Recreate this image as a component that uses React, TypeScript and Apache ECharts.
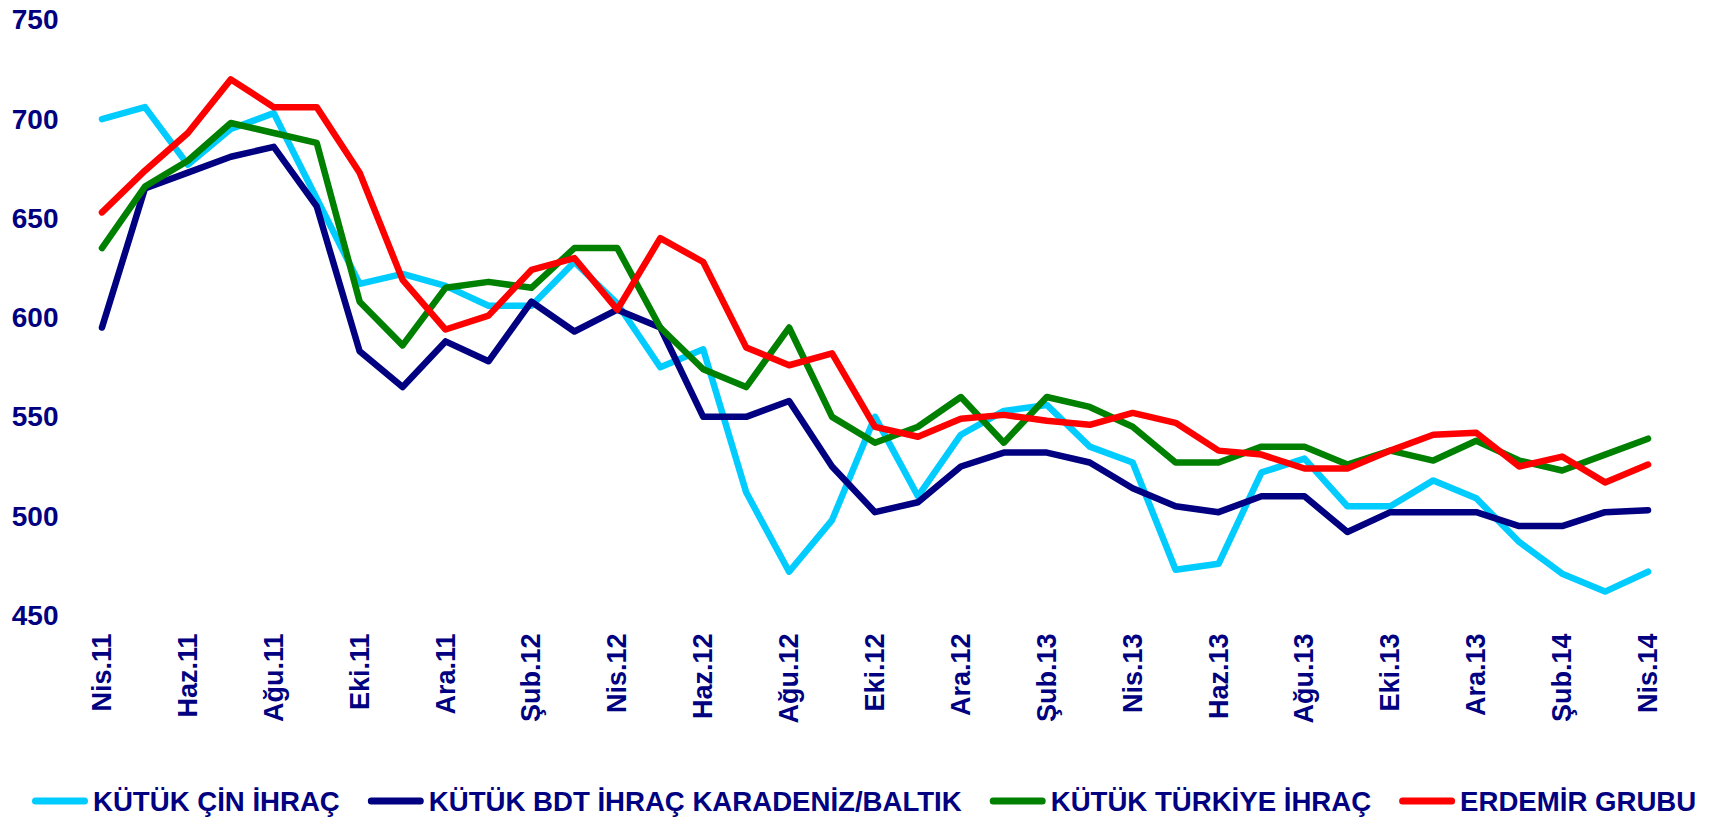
import React, { useEffect, useRef } from "react";
import * as echarts from "echarts";

const months = [
  "Nis.11", "May.11", "Haz.11", "Tem.11", "Ağu.11", "Eyl.11", "Eki.11", "Kas.11", "Ara.11",
  "Oca.12", "Şub.12", "Mar.12", "Nis.12", "May.12", "Haz.12", "Tem.12", "Ağu.12", "Eyl.12", "Eki.12", "Kas.12", "Ara.12",
  "Oca.13", "Şub.13", "Mar.13", "Nis.13", "May.13", "Haz.13", "Tem.13", "Ağu.13", "Eyl.13", "Eki.13", "Kas.13", "Ara.13",
  "Oca.14", "Şub.14", "Mar.14", "Nis.14",
];

const kutukCin = [700, 706, 677, 695, 703, 660, 617, 622, 616, 606, 606, 628, 607, 575, 584, 512, 472, 498, 550, 510, 541, 553, 556, 535, 527, 473, 476, 522, 529, 505, 505, 518, 509, 487, 471, 462, 472];
const kutukBdt = [595, 665, 673, 681, 686, 656, 583, 565, 588, 578, 608, 593, 604, 595, 550, 550, 558, 525, 502, 507, 525, 532, 532, 527, 514, 505, 502, 510, 510, 492, 502, 502, 502, 495, 495, 502, 503];
const kutukTurkiye = [635, 666, 679, 698, 693, 688, 608, 586, 615, 618, 615, 635, 635, 595, 574, 565, 595, 550, 537, 545, 560, 537, 560, 555, 545, 527, 527, 535, 535, 526, 533, 528, 538, 528, 523, 531, 539];
const erdemir = [653, 674, 693, 720, 706, 706, 673, 619, 594, 601, 624, 630, 604, 640, 628, 585, 576, 582, 545, 540, 549, 551, 548, 546, 552, 547, 533, 531, 524, 524, 533, 541, 542, 525, 530, 517, 526];

const seriesNames = ["KÜTÜK ÇİN İHRAÇ", "KÜTÜK BDT İHRAÇ KARADENİZ/BALTIK", "KÜTÜK TÜRKİYE İHRAÇ", "ERDEMİR GRUBU"];
const seriesColors = ["#00CCFF", "#000080", "#008000", "#FF0000"];
const seriesData = [kutukCin, kutukBdt, kutukTurkiye, erdemir];

const FONT = "'Liberation Sans', Arial, Helvetica, sans-serif";
const TEXT = "#000080";
const CAPSULE = "path://M3.5,0 L52.5,0 A3.5,3.5 0 0 1 52.5,7 L3.5,7 A3.5,3.5 0 0 1 3.5,0 Z";

export default function App() {
  const ref = useRef<HTMLDivElement>(null);
  useEffect(() => {
    if (!ref.current) return;
    const chart = echarts.init(ref.current, null, { renderer: "svg" });
    chart.setOption({
      animation: false,
      backgroundColor: "#ffffff",
      grid: { left: 80.5, right: 53.5, top: 19.8, bottom: 203.6, containLabel: false },
      xAxis: {
        type: "category",
        data: months,
        boundaryGap: true,
        axisLine: { show: false },
        axisTick: { show: false },
        splitLine: { show: false },
        axisLabel: {
          interval: 1,
          rotate: 90,
          margin: 18,
          color: TEXT,
          fontWeight: "bold",
          fontSize: 27,
          fontFamily: FONT,
        },
      },
      yAxis: {
        type: "value",
        min: 450,
        max: 750,
        interval: 50,
        axisLine: { show: false },
        axisTick: { show: false },
        splitLine: { show: false },
        axisLabel: {
          margin: 22,
          color: TEXT,
          fontWeight: "bold",
          fontSize: 28,
          fontFamily: FONT,
        },
      },
      legend: {
        left: 32,
        top: 787,
        padding: 0,
        icon: CAPSULE,
        itemWidth: 56,
        itemHeight: 7,
        itemGap: 28,
        textStyle: { color: TEXT, fontWeight: "bold", fontSize: 27.6, fontFamily: FONT },
        data: seriesNames,
      },
      series: seriesNames.map((name, i) => ({
        name,
        type: "line",
        data: seriesData[i],
        symbol: "none",
        color: seriesColors[i],
        lineStyle: { width: 6.5, color: seriesColors[i], cap: "round", join: "round" },
      })),
    });
    return () => chart.dispose();
  }, []);
  return <div ref={ref} style={{ position: "fixed", left: 0, top: 0, width: 1723, height: 819 }} />;
}
